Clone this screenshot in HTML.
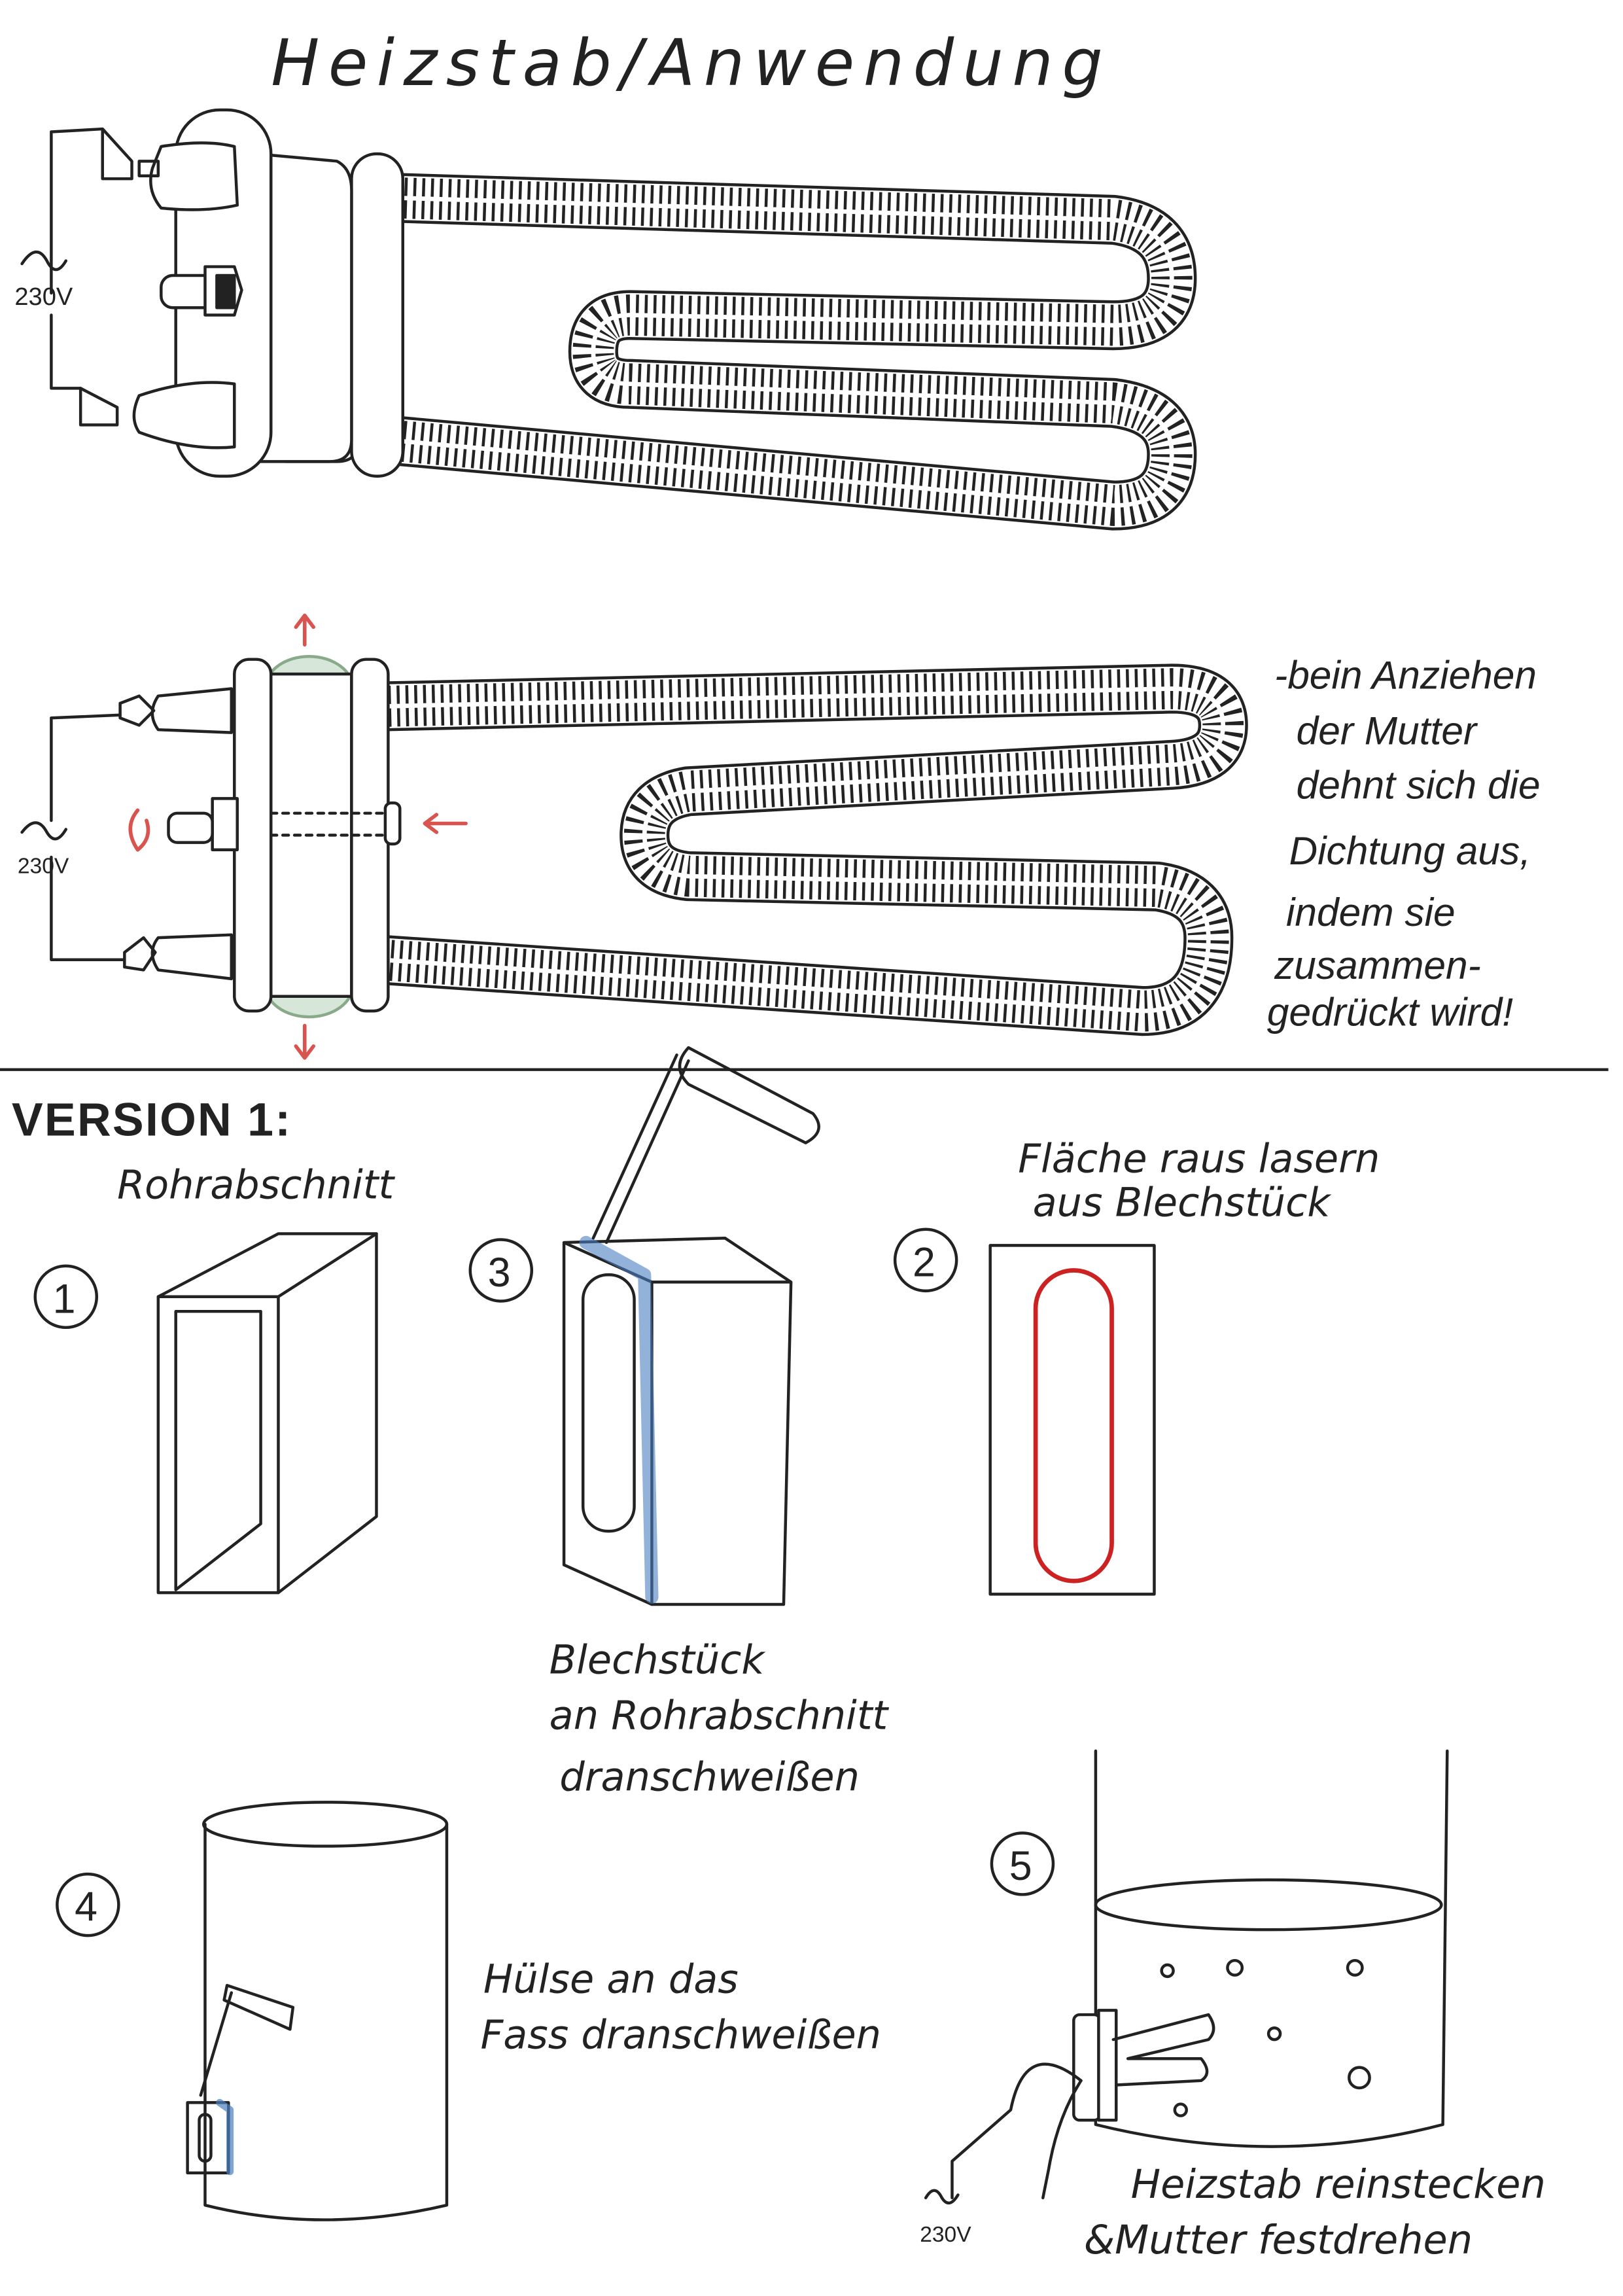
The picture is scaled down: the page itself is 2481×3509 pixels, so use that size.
<!DOCTYPE html>
<html><head><style>
html,body{margin:0;padding:0;background:#fff;}
svg{display:block;}
text{font-family:"Liberation Sans",sans-serif;fill:#222;}
.h{font-family:"DejaVu Sans","Liberation Sans",sans-serif;font-style:italic;font-weight:300;}
</style></head><body>
<svg width="2481" height="3509" viewBox="0 0 1108 1567" preserveAspectRatio="none" xmlns="http://www.w3.org/2000/svg">
<rect width="1108" height="1567" fill="#fff"/>
<g fill="none" stroke="#222" stroke-width="2" stroke-linecap="butt" stroke-linejoin="round">
<text x="185" y="58" class="h" font-size="44" stroke="none" letter-spacing="6">Heizstab/Anwendung</text>

<!-- TOP HEATER coil -->
<path d="M270 135 L760 150 Q800 155 800 190 Q800 222 760 222 L430 215 Q405 215 405 240 Q405 262 430 262 L760 275 Q800 280 800 310 Q800 345 760 345 L262 300" stroke-width="34"/>
<path d="M270 135 L760 150 Q800 155 800 190 Q800 222 760 222 L430 215 Q405 215 405 240 Q405 262 430 262 L760 275 Q800 280 800 310 Q800 345 760 345 L262 300" stroke="#fff" stroke-width="30"/>
<path d="M270 135 L760 150 Q800 155 800 190 Q800 222 760 222 L430 215 Q405 215 405 240 Q405 262 430 262 L760 275 Q800 280 800 310 Q800 345 760 345 L262 300" stroke-width="28" stroke-dasharray="2 4"/>
<path d="M270 135 L760 150 Q800 155 800 190 Q800 222 760 222 L430 215 Q405 215 405 240 Q405 262 430 262 L760 275 Q800 280 800 310 Q800 345 760 345 L262 300" stroke="#fff" stroke-width="3"/>
<g stroke-linecap="round">
<path d="M240 165 L245 300 Q245 315 230 315 L195 315 L195 165 Z" fill="#fff"/>
<rect x="240" y="105" width="35" height="220" rx="17" fill="#fff"/>
<path d="M175 105 L230 110 Q240 115 240 130 L240 300 Q240 315 225 315 L175 315 Z" fill="#fff"/>
<rect x="120" y="75" width="65" height="250" rx="30" fill="#fff"/>
<path d="M110 100 Q140 95 160 100 L162 140 Q140 145 110 142 Q100 130 104 115 Z" fill="#fff"/>
<path d="M95 110 L108 110 L108 120 L95 120Z"/>
<path d="M70 88 L70 122 L90 122 L90 110 L70 88"/>
<path d="M70 88 L35 90 L35 200"/>
<path d="M95 270 Q130 258 160 262 L160 305 Q130 308 95 295 Q88 285 95 270Z" fill="#fff"/>
<path d="M55 265 L55 290 L80 290 L80 278 Z"/>
<path d="M55 265 L35 265 L35 215"/>
<path d="M15 180 Q25 165 32 178 Q38 190 45 178"/>
<text x="10" y="208" font-size="17" stroke="none">230V</text>
<rect x="110" y="188" width="45" height="22" rx="8" fill="#fff"/>
<path d="M140 182 L160 182 L165 198 L160 215 L140 215 Z" fill="#fff"/>
<rect x="148" y="188" width="12" height="22" fill="#222"/>
</g>

<!-- MIDDLE HEATER -->
<path d="M265 482 L800 470 Q835 470 835 495 Q835 520 800 522 L470 540 Q440 545 440 570 Q440 595 470 598 L790 605 Q825 610 825 640 Q825 690 780 690 L260 655" stroke-width="34"/>
<path d="M265 482 L800 470 Q835 470 835 495 Q835 520 800 522 L470 540 Q440 545 440 570 Q440 595 470 598 L790 605 Q825 610 825 640 Q825 690 780 690 L260 655" stroke="#fff" stroke-width="30"/>
<path d="M265 482 L800 470 Q835 470 835 495 Q835 520 800 522 L470 540 Q440 545 440 570 Q440 595 470 598 L790 605 Q825 610 825 640 Q825 690 780 690 L260 655" stroke-width="28" stroke-dasharray="2 4"/>
<path d="M265 482 L800 470 Q835 470 835 495 Q835 520 800 522 L470 540 Q440 545 440 570 Q440 595 470 598 L790 605 Q825 610 825 640 Q825 690 780 690 L260 655" stroke="#fff" stroke-width="3"/>
<g stroke-linecap="round">
<ellipse cx="211" cy="470" rx="30" ry="22" fill="#d6e6d8" stroke="#8a8"/>
<ellipse cx="211" cy="672" rx="30" ry="22" fill="#d6e6d8" stroke="#8a8"/>
<rect x="160" y="450" width="25" height="240" rx="10" fill="#fff"/>
<rect x="185" y="460" width="55" height="220" fill="#fff"/>
<rect x="240" y="450" width="25" height="240" rx="10" fill="#fff"/>
<line x1="185" y1="555" x2="270" y2="555" stroke-dasharray="4 4"/>
<line x1="185" y1="570" x2="270" y2="570" stroke-dasharray="4 4"/>
<rect x="263" y="548" width="10" height="28" rx="4" fill="#fff"/>
<path d="M145 545 L162 545 L162 580 L145 580 Z" fill="#fff"/>
<rect x="115" y="555" width="30" height="20" rx="6" fill="#fff"/>
<path d="M108 475 L158 470 L158 500 L108 498 Q100 487 108 475Z" fill="#fff"/>
<path d="M82 480 L95 475 L105 485 L95 495 L82 490Z"/>
<path d="M82 488 L35 490 L35 560"/>
<path d="M108 640 L158 638 L158 668 L108 662 Q100 650 108 640Z" fill="#fff"/>
<path d="M85 650 L98 640 L106 650 L98 662 L85 660Z"/>
<path d="M85 655 L35 655 L35 585"/>
<path d="M15 568 Q25 555 32 568 Q38 578 45 566"/>
<text x="12" y="596" font-size="15" stroke="none">230V</text>
<g stroke="#d9534f" stroke-width="2.5">
<path d="M208 440 L208 420 M202 428 L208 420 L214 428"/>
<path d="M208 700 L208 722 M202 714 L208 722 L214 714"/>
<path d="M318 562 L290 562 M298 556 L290 562 L298 568"/>
<path d="M94 553 Q84 565 94 580 Q104 572 100 560"/>
</g>
</g>
<g class="h" font-size="27" stroke="none">
<text x="870" y="470" stroke="none">-bein Anziehen</text>
<text x="885" y="508" stroke="none">der Mutter</text>
<text x="885" y="545" stroke="none">dehnt sich die</text>
<text x="880" y="590" stroke="none">Dichtung aus,</text>
<text x="878" y="632" stroke="none">indem sie</text>
<text x="870" y="668" stroke="none">zusammen-</text>
<text x="865" y="700" stroke="none">gedrückt wird!</text>
</g>
<line x1="0" y1="730" x2="1098" y2="730"/>

<g stroke-linecap="round">
<text x="8" y="775" font-size="32" font-weight="bold" stroke="none" letter-spacing="1">VERSION 1:</text>
<text x="80" y="818" class="h" font-size="27" stroke="none">Rohrabschnitt</text>
<text x="695" y="800" class="h" font-size="27" stroke="none">Fläche raus lasern</text>
<text x="705" y="830" class="h" font-size="27" stroke="none">aus Blechstück</text>

<circle cx="45" cy="885" r="21"/><text x="36" y="896" font-size="28" stroke="none">1</text>
<path d="M108 885 L190 842 L257 842 L257 1035 L190 1087 L108 1087 Z"/>
<path d="M108 885 L190 885 L257 842 M190 885 L190 1087 M120 895 L178 895 L178 1040 L120 1085 Z"/>
<circle cx="342" cy="867" r="21"/><text x="333" y="878" font-size="28" stroke="none">3</text>
<path d="M385 848 L385 1068 L445 1095 L535 1095 L540 875 L445 875 Z M445 875 L445 1095 M385 848 L495 845 L540 875"/>
<rect x="398" y="870" width="35" height="175" rx="17"/>
<path d="M400 848 L440 870 L445 1090" stroke="#4a7fc1" stroke-width="9" opacity="0.6"/>
<path d="M405 845 L462 720 M414 848 L470 724"/>
<path d="M470 715 L555 760 Q565 772 550 780 L470 740 Q458 728 470 715Z"/>
<text x="375" y="1142" class="h" font-size="27" stroke="none">Blechstück</text>
<text x="375" y="1180" class="h" font-size="27" stroke="none">an Rohrabschnitt</text>
<text x="382" y="1222" class="h" font-size="27" stroke="none">dranschweißen</text>
<circle cx="632" cy="860" r="21"/><text x="623" y="871" font-size="28" stroke="none">2</text>
<rect x="676" y="850" width="112" height="238"/>
<rect x="707" y="867" width="52" height="212" rx="26" stroke="#c22" stroke-width="3"/>
<circle cx="60" cy="1300" r="21"/><text x="51" y="1311" font-size="28" stroke="none">4</text>
<path d="M140 1245 L140 1505 Q220 1525 305 1505 L305 1245"/>
<ellipse cx="222" cy="1245" rx="83" ry="15"/>
<rect x="128" y="1435" width="28" height="48"/>
<rect x="136" y="1443" width="8" height="32" rx="4"/>
<path d="M150 1435 L157 1440 L157 1482" stroke="#4a7fc1" stroke-width="5" opacity="0.7"/>
<path d="M137 1430 L158 1360"/>
<path d="M155 1355 L200 1370 L198 1385 L153 1365Z"/>
<text x="330" y="1360" class="h" font-size="27" stroke="none">Hülse an das</text>
<text x="328" y="1398" class="h" font-size="27" stroke="none">Fass dranschweißen</text>
<circle cx="698" cy="1272" r="21"/><text x="689" y="1283" font-size="28" stroke="none">5</text>
<path d="M748 1195 L748 1450 Q870 1480 985 1450 L988 1195"/>
<ellipse cx="866" cy="1300" rx="118" ry="17"/>
<circle cx="797" cy="1345" r="4"/><circle cx="843" cy="1343" r="5"/><circle cx="925" cy="1343" r="5"/>
<circle cx="870" cy="1388" r="4"/><circle cx="928" cy="1418" r="7"/><circle cx="806" cy="1440" r="4"/>
<rect x="733" y="1375" width="18" height="72" rx="4" fill="#fff"/>
<rect x="750" y="1372" width="12" height="75" fill="#fff"/>
<path d="M760 1392 L825 1375 Q832 1385 825 1392 L770 1405 L820 1405 Q828 1415 820 1420 L762 1423"/>
<path d="M738 1420 Q700 1390 690 1440 L650 1475 L650 1500"/>
<path d="M738 1420 Q722 1445 716 1480 L712 1500"/>
<path d="M632 1500 Q638 1490 643 1500 Q648 1508 654 1498"/>
<text x="628" y="1530" font-size="15" stroke="none">230V</text>
<text x="772" y="1500" class="h" font-size="27" stroke="none">Heizstab reinstecken</text>
<text x="740" y="1538" class="h" font-size="27" stroke="none">&amp;Mutter festdrehen</text>
</g>
</g>
</svg>
</body></html>
